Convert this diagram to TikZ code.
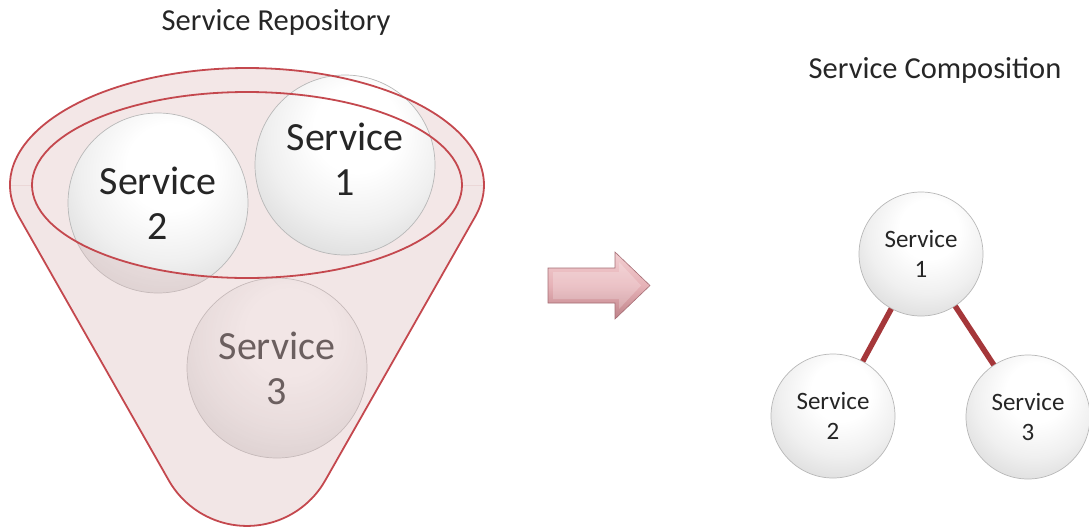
\documentclass[tikz,border=0pt]{standalone}
\usepackage{fontspec}
\setmainfont{Carlito}

\definecolor{funnelred}{RGB}{196,72,78}
\definecolor{funnelback}{RGB}{243,231,231}
\definecolor{frontpink}{RGB}{222,190,190}
\definecolor{linkred}{RGB}{165,55,58}
\definecolor{inktext}{RGB}{38,38,38}
\definecolor{arrowtop}{RGB}{242,206,209}
\definecolor{arrowmid}{RGB}{230,178,183}
\definecolor{arrowbot}{RGB}{190,130,137}
\definecolor{arrowedge}{RGB}{165,110,117}

% glossy sphere: bright spot high up, grey towards the rim
\pgfdeclareradialshading{sphere}{\pgfpoint{4bp}{12bp}}{%
  color(0bp)=(white); color(12bp)=(white); color(24bp)=(black!6);
  color(36bp)=(black!15); color(46bp)=(black!27); color(54bp)=(black!40);
  color(70bp)=(black!40)}

% funnel outline: top of the rim ellipse, tangents to the rounded tip
\def\funneloutline{(18.8,216.6)
  arc[start angle=164.34, end angle=375.66, x radius=237, y radius=117]
  -- (325.25,480.4) arc[start angle=29.62, end angle=150.38, radius=90] -- cycle}
\def\funnelrim{(247,185) ellipse[x radius=215, y radius=93]}

\tikzset{
  ball/.style={circle, inner sep=0pt, shading=sphere, draw=black!28,
    line width=0.7pt, align=center, text=inktext},
  bigfont/.style={font=\fontsize{40}{45}\selectfont},
  bigball/.style={ball, minimum size=180pt, bigfont},
  smallball/.style={ball, minimum size=124pt, font=\fontsize{25}{30}\selectfont},
  title/.style={anchor=base, text=inktext, font=\fontsize{30.5}{36}\selectfont},
  rimline/.style={draw=funnelred, line width=1.8pt},
  link/.style={draw=linkred, line width=5.5pt},
}

\begin{document}
\begin{tikzpicture}[x=1pt, y=-1pt]
\useasboundingbox (0,0) rectangle (1089,531);

% titles
\node[title] (t1) at (276,30) {Service Repository};
\node[title] (t2) at (935,78) {Service Composition};

% back of the funnel
\begin{scope}
  \clip (0,0) rectangle (1089,185);
  \fill[funnelback] \funneloutline;
\end{scope}
\fill[funnelback] \funnelrim;

% services held in the repository
\node[bigball] (s3) at (277,368) {Service\\3};
\node[bigball] (s2) at (158,203) {Service\\2};
\node[bigball] (s1) at (345,165) {};
\node[bigfont, align=center, text=inktext] (s1text) at (345,159) {Service\\1};

% translucent front of the funnel
\begin{scope}
  \clip (0,185) rectangle (1089,531);
  \fill[frontpink, fill opacity=0.38, even odd rule] \funneloutline \funnelrim;
\end{scope}

% funnel edges
\draw[rimline, line join=round] \funneloutline;
\draw[rimline] \funnelrim;

% block arrow with a lighter bevel face
\path[draw=arrowedge, line width=0.6pt, top color=arrowtop, bottom color=arrowbot,
      middle color=arrowmid]
  (548,268) -- (615,268) -- (615,252) -- (650,285.5) -- (615,319)
  -- (615,303) -- (548,303) -- cycle;
\fill[white, opacity=0.22]
  (553,272) -- (619,272) -- (619,262) -- (641,285.5) -- (619,309)
  -- (619,299) -- (553,299) -- cycle;

% composed services
\node[smallball] (r1) at (921,254) {Service\\1};
\node[smallball] (r2) at (833,416) {Service\\2};
\node[smallball] (r3) at (1028,417) {Service\\3};
\draw[link] (r1) -- (r2);
\draw[link] (r1) -- (r3);
\end{tikzpicture}
\end{document}
